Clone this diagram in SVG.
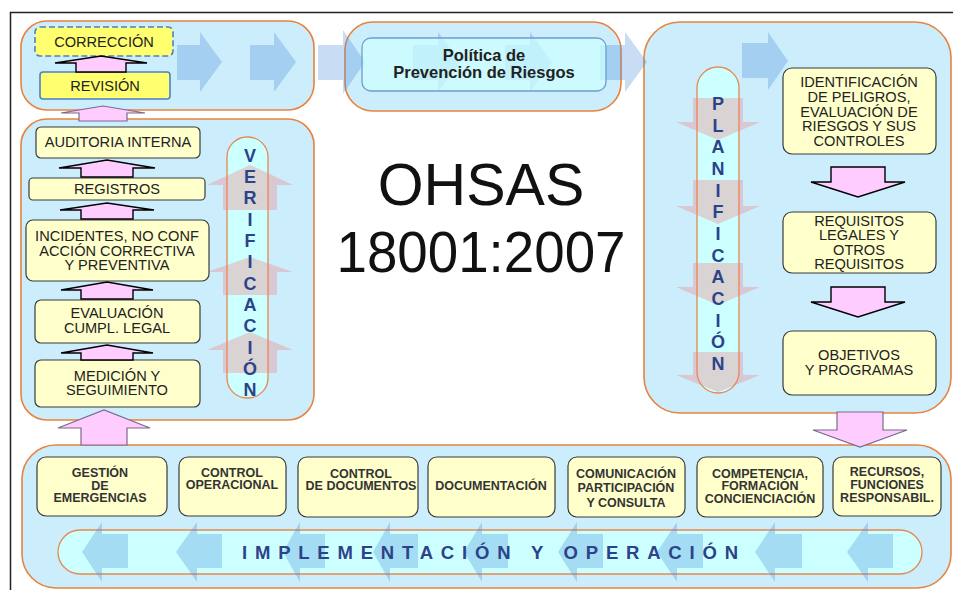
<svg xmlns="http://www.w3.org/2000/svg" width="953" height="590" viewBox="0 0 953 590">
<defs>
<style>
.panel{fill:#ccedfc;stroke:#e8823c;stroke-width:1.6}
.pill{fill:#ccffff;stroke:#e8884c;stroke-width:1.3}
.box{fill:#ffffcc;stroke:#3a3a3a;stroke-width:1.2}
.ybox{fill:#ffff70;stroke:#4a80c8;stroke-width:1.6}
.barrow{fill:#4a8ad8;fill-opacity:0.3}
.rarrow{fill:#f08080;fill-opacity:0.35}
.parrow{fill:#ffccff;stroke:#000;stroke-width:1.4;stroke-linejoin:miter}
.parrow2{fill:#ffccff;stroke:#7a6a8a;stroke-width:1.2}
.t{font-family:"Liberation Sans",Arial,sans-serif;font-size:14.6px;fill:#222;text-anchor:middle}
.tb{font-family:"Liberation Sans",Arial,sans-serif;font-size:12.5px;font-weight:bold;fill:#333;text-anchor:middle}
.lt{font-family:"Liberation Sans",Arial,sans-serif;font-size:18px;font-weight:bold;fill:#2c4389;text-anchor:middle}
</style>
</defs>
<rect width="953" height="590" fill="#fff"/>
<path d="M10.5,590 L10.5,12.5 L953,12.5" fill="none" stroke="#222" stroke-width="1.5"/>

<g id="panels">
<rect id="panel-top-left" class="panel" x="21" y="21" width="293" height="89" rx="26"/>
<rect id="panel-policy" class="panel" x="345" y="22" width="276" height="89" rx="28"/>
<rect id="panel-planning" class="panel" x="644" y="22" width="307" height="391" rx="36"/>
<rect id="panel-verification" class="panel" x="21" y="119" width="293" height="301" rx="26"/>
<rect id="panel-implementation" class="panel" x="22" y="445" width="929" height="143" rx="34"/>
</g>

<g id="connectors">
<path class="barrow" d="M177,45 H200 V32 L222,62 L200,92 V80 H177 Z"/>
<path class="barrow" d="M250,45 H274 V32 L296,62 L274,92 V80 H250 Z"/>
<path class="barrow" d="M318,45 H343 V30 L365,62 L343,94 V80 H318 Z"/>
<path class="barrow" d="M413,45 H438 V32 L460,62 L438,92 V80 H413 Z"/>
<path class="barrow" d="M505,45 H530 V32 L552,62 L530,92 V80 H505 Z"/>
<path class="barrow" d="M600,45 H625 V32 L647,62 L625,92 V80 H600 Z"/>
<path class="barrow" d="M742,43 H768 V32 L788,61 L768,90 V78 H742 Z"/>
</g>

<g id="policy">
<rect x="362" y="38" width="244" height="53" rx="9" fill="#ccffff" fill-opacity="0.72" stroke="#6a9fd0" stroke-width="1.3"/>
<text font-family="'Liberation Sans',Arial,sans-serif" font-size="16.5" font-weight="bold" fill="#222" text-anchor="middle"><tspan x="484" y="61">Política de</tspan><tspan x="484" y="78">Prevención de Riesgos</tspan></text>
</g>

<g id="correccion">
<rect class="ybox" x="35" y="27" width="138" height="29" rx="5" stroke-dasharray="6,3"/>
<text class="t" x="104" y="47">CORRECCIÓN</text>
</g>
<g id="revision">
<rect class="ybox" x="40" y="72" width="130" height="27" rx="3" stroke="#5a8ac8"/>
<text class="t" x="105" y="91">REVISIÓN</text>
</g>

<g id="verificacion">
<rect class="pill" x="227" y="137" width="41" height="261" rx="20"/>
<path class="rarrow" d="M223,210 V185 H207 L250,165 L293,185 H277 V210 Z"/>
<path class="rarrow" d="M223,295 V272 H207 L250,257 L293,272 H277 V295 Z"/>
<path class="rarrow" d="M223,373 V350 H207 L250,332 L293,350 H277 V373 Z"/>
<text class="lt"><tspan x="250" y="162">V</tspan><tspan x="250" y="183">E</tspan><tspan x="250" y="204">R</tspan><tspan x="250" y="226">I</tspan><tspan x="250" y="247">F</tspan><tspan x="250" y="268">I</tspan><tspan x="250" y="290">C</tspan><tspan x="250" y="311">A</tspan><tspan x="250" y="332">C</tspan><tspan x="250" y="354">I</tspan><tspan x="250" y="375">Ó</tspan><tspan x="250" y="396">N</tspan></text>
</g>

<g id="auditoria">
<rect class="box" x="36" y="127" width="164" height="31" rx="5"/>
<text class="t" x="118" y="147">AUDITORIA INTERNA</text>
</g>
<g id="registros">
<rect class="box" x="29" y="178" width="176" height="22" rx="4"/>
<text class="t" x="117" y="194">REGISTROS</text>
</g>
<g id="incidentes">
<rect class="box" x="26" y="220" width="183" height="61" rx="7"/>
<text class="t"><tspan x="117" y="241">INCIDENTES, NO CONF</tspan><tspan x="117" y="255.5">ACCIÓN CORRECTIVA</tspan><tspan x="117" y="270">Y PREVENTIVA</tspan></text>
</g>
<g id="evaluacion">
<rect class="box" x="35" y="300" width="165" height="43" rx="6"/>
<text class="t"><tspan x="117" y="318">EVALUACIÓN</tspan><tspan x="117" y="333">CUMPL. LEGAL</tspan></text>
</g>
<g id="medicion">
<rect class="box" x="35" y="360" width="165" height="47" rx="6"/>
<text class="t"><tspan x="117" y="381">MEDICIÓN Y</tspan><tspan x="117" y="395">SEGUIMIENTO</tspan></text>
</g>

<g id="planificacion">
<rect class="pill" x="697" y="67" width="42" height="326" rx="21"/>
<path class="rarrow" d="M693,98 H743 V122 H760 L718,140 L676,122 H693 Z"/>
<path class="rarrow" d="M693,180 H743 V206 H760 L718,224 L676,206 H693 Z"/>
<path class="rarrow" d="M693,263 H743 V287 H760 L718,305 L676,287 H693 Z"/>
<path class="rarrow" d="M693,352 H743 V375 H760 L718,392 L676,375 H693 Z"/>
<text class="lt"><tspan x="718" y="110">P</tspan><tspan x="718" y="132">L</tspan><tspan x="718" y="153">A</tspan><tspan x="718" y="175">N</tspan><tspan x="718" y="197">I</tspan><tspan x="718" y="218">F</tspan><tspan x="718" y="240">I</tspan><tspan x="718" y="262">C</tspan><tspan x="718" y="283">A</tspan><tspan x="718" y="305">C</tspan><tspan x="718" y="327">I</tspan><tspan x="718" y="348">Ó</tspan><tspan x="718" y="370">N</tspan></text>
</g>

<g id="identificacion">
<rect class="box" x="783" y="68" width="153" height="86" rx="9"/>
<text class="t"><tspan x="859" y="87">IDENTIFICACIÓN</tspan><tspan x="859" y="102">DE PELIGROS,</tspan><tspan x="859" y="117">EVALUACIÓN DE</tspan><tspan x="859" y="131">RIESGOS Y SUS</tspan><tspan x="859" y="146">CONTROLES</tspan></text>
</g>
<g id="requisitos">
<rect class="box" x="783" y="212" width="153" height="61" rx="9"/>
<text class="t"><tspan x="859" y="226">REQUISITOS</tspan><tspan x="859" y="240">LEGALES Y</tspan><tspan x="859" y="255">OTROS</tspan><tspan x="859" y="269">REQUISITOS</tspan></text>
</g>
<g id="objetivos">
<rect class="box" x="783" y="331" width="153" height="64" rx="9"/>
<text class="t"><tspan x="859" y="360">OBJETIVOS</tspan><tspan x="859" y="375">Y PROGRAMAS</tspan></text>
</g>

<g id="pink-arrows">
<path class="parrow" d="M76,72 V63 H55 L101,56 L147,63 H126 V72 Z"/>
<path class="parrow2" d="M79,121 V113 H61 L103,106 L145,113 H127 V121 Z"/>
<path class="parrow" d="M81,177 V168 H59 L107,160 L155,168 H133 V177 Z"/>
<path class="parrow" d="M81,219 V210 H60 L107,203 L154,210 H133 V219 Z"/>
<path class="parrow" d="M81,299 V290 H61 L107,282 L153,290 H133 V299 Z"/>
<path class="parrow" d="M81,360 V353 H61 L107,345 L153,353 H133 V360 Z"/>
<path class="parrow2" d="M81,445 V428 H58 L104,410 L150,428 H127 V445 Z"/>
<path class="parrow" d="M831,167 H885 V182 H905 L858,197 L811,182 H831 Z"/>
<path class="parrow" d="M831,287 H885 V302 H905 L858,317 L811,302 H831 Z"/>
<path class="parrow2" d="M837,412 H883 V430 H907 L860,447 L813,430 H837 Z"/>
</g>

<g id="title">
<text font-family="'Liberation Sans',Arial,sans-serif" font-size="59" fill="#111" text-anchor="middle" x="481" y="205">OHSAS</text>
<text font-family="'Liberation Sans',Arial,sans-serif" font-size="57" fill="#111" text-anchor="middle" x="481" y="272" textLength="289" lengthAdjust="spacingAndGlyphs">18001:2007</text>
</g>

<g id="implementacion">
<rect class="pill" x="58" y="530" width="864" height="44" rx="22"/>
<path class="barrow" d="M128,534 H102 V522 L82,552 L102,582 V568 H128 Z"/>
<path class="barrow" d="M222,534 H197 V522 L176,552 L197,582 V568 H222 Z"/>
<path class="barrow" d="M325,534 H300 V522 L283,552 L300,582 V568 H325 Z"/>
<path class="barrow" d="M418,534 H390 V522 L373,552 L390,582 V568 H418 Z"/>
<path class="barrow" d="M508,534 H482 V522 L464,552 L482,582 V568 H508 Z"/>
<path class="barrow" d="M603,534 H577 V522 L558,552 L577,582 V568 H603 Z"/>
<path class="barrow" d="M703,534 H677 V522 L657,552 L677,582 V568 H703 Z"/>
<path class="barrow" d="M802,534 H775 V522 L755,552 L775,582 V568 H802 Z"/>
<path class="barrow" d="M893,534 H868 V522 L847,552 L868,582 V568 H893 Z"/>
<text font-family="'Liberation Sans',Arial,sans-serif" font-size="18.5" font-weight="bold" fill="#2c4389" x="242" y="559" textLength="496" lengthAdjust="spacing">IMPLEMENTACIÓN Y OPERACIÓN</text>
</g>

<g id="gestion">
<rect class="box" x="37" y="457" width="130" height="59" rx="9"/>
<text class="tb"><tspan x="100" y="477">GESTIÓN</tspan><tspan x="100" y="489.5">DE</tspan><tspan x="100" y="502">EMERGENCIAS</tspan></text>
</g>
<g id="control-operacional">
<rect class="box" x="179" y="457" width="107" height="59" rx="9"/>
<text class="tb"><tspan x="232" y="477">CONTROL</tspan><tspan x="232" y="489">OPERACIONAL</tspan></text>
</g>
<g id="control-documentos">
<rect class="box" x="298" y="457" width="120" height="60" rx="9"/>
<text class="tb"><tspan x="361" y="478">CONTROL</tspan><tspan x="361" y="490">DE DOCUMENTOS</tspan></text>
</g>
<g id="documentacion">
<rect class="box" x="428" y="457" width="127" height="60" rx="9"/>
<text class="tb" x="491" y="490">DOCUMENTACIÓN</text>
</g>
<g id="comunicacion">
<rect class="box" x="568" y="457" width="117" height="60" rx="9"/>
<text class="tb"><tspan x="626" y="477.5">COMUNICACIÓN</tspan><tspan x="626" y="492">PARTICIPACIÓN</tspan><tspan x="626" y="506.5">Y CONSULTA</tspan></text>
</g>
<g id="competencia">
<rect class="box" x="697" y="457" width="126" height="60" rx="9"/>
<text class="tb"><tspan x="760" y="477.5">COMPETENCIA,</tspan><tspan x="760" y="490">FORMACIÓN</tspan><tspan x="760" y="503">CONCIENCIACIÓN</tspan></text>
</g>
<g id="recursos">
<rect class="box" x="833" y="457" width="108" height="59" rx="9"/>
<text class="tb"><tspan x="887" y="475.5">RECURSOS,</tspan><tspan x="887" y="489">FUNCIONES</tspan><tspan x="887" y="501.5">RESPONSABIL.</tspan></text>
</g>
</svg>
